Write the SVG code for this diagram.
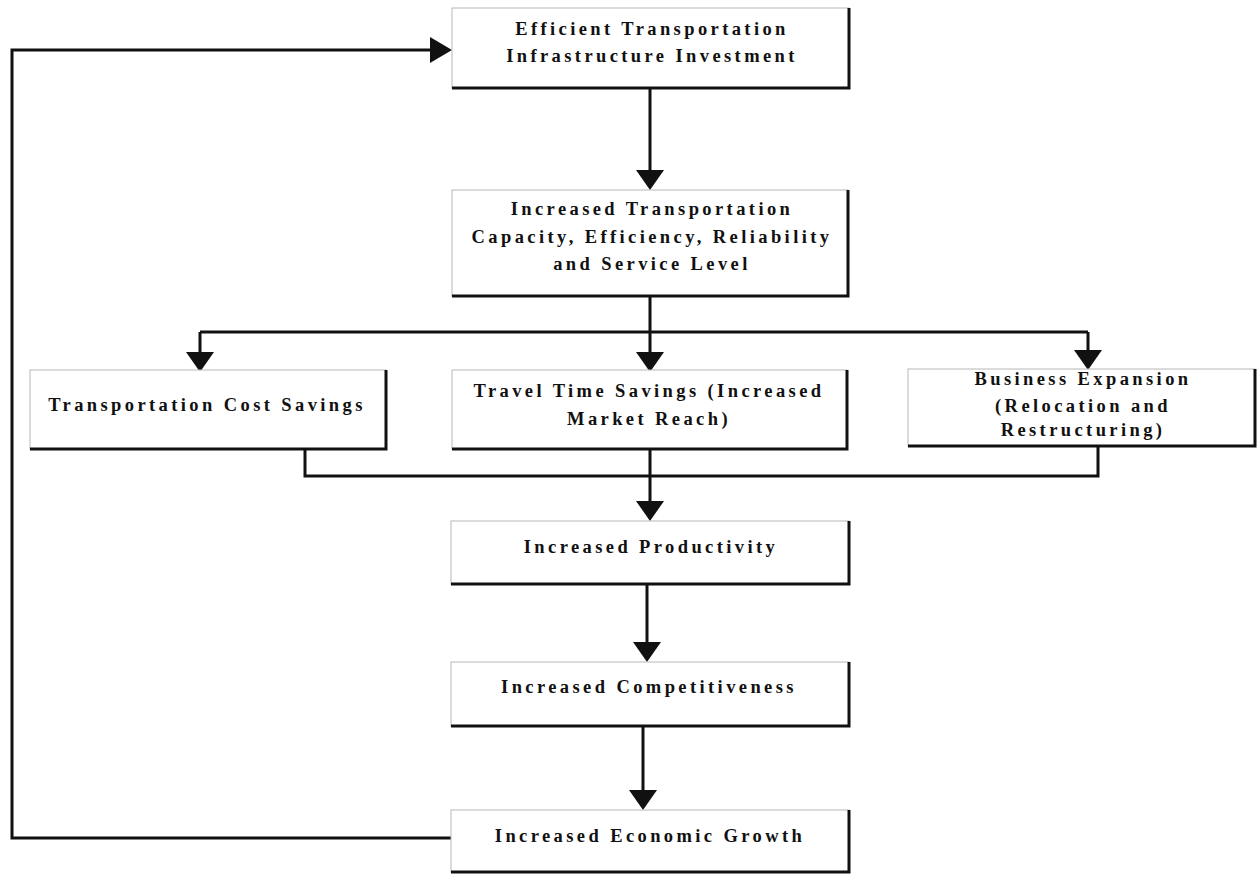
<svg xmlns="http://www.w3.org/2000/svg" width="1257" height="874" viewBox="0 0 1257 874">
<style>
.bg{fill:#fff;stroke:#b8b8b8;stroke-width:1}
.sh{fill:none;stroke:#111;stroke-width:3}
.t{font-family:"Liberation Serif","Times New Roman",serif;font-weight:bold;font-size:18.5px;letter-spacing:3.4px;fill:#111;text-anchor:middle}
.c{fill:none;stroke:#111;stroke-width:3}
.ah{fill:#111}
</style>
<rect width="1257" height="874" fill="#fff"/>
<g id="connectors">
<path class="c" d="M650 88 V172"/>
<polygon class="ah" points="636,170 664,170 650,190"/>
<path class="c" d="M650 296 V332 M200 332 H1088 M200 332 V354 M650 332 V354 M1088 332 V353"/>
<polygon class="ah" points="186,352 214,352 200,372"/>
<polygon class="ah" points="636,352 664,352 650,372"/>
<polygon class="ah" points="1074,350 1102,350 1088,370"/>
<path class="c" d="M305 449 V476 H1098 V446 M650 437 V503"/>
<polygon class="ah" points="636,501 664,501 650,521"/>
<path class="c" d="M647 584 V644"/>
<polygon class="ah" points="633,642 661,642 647,662"/>
<path class="c" d="M643 726 V792"/>
<polygon class="ah" points="629,790 657,790 643,810"/>
<path class="c" d="M451 838 H12 V50 H432"/>
<polygon class="ah" points="430,37 430,63 452,50"/>
</g>
<g id="n1">
<rect class="bg" x="452" y="8" width="397" height="80"/>
<path class="sh" d="M849 8 V88 H452"/>
<text class="t" x="652" y="35">Efficient Transportation</text>
<text class="t" x="652" y="62">Infrastructure Investment</text>
</g>
<g id="n2">
<rect class="bg" x="452" y="190" width="396" height="106"/>
<path class="sh" d="M848 190 V296 H452"/>
<text class="t" x="652" y="215">Increased Transportation</text>
<text class="t" x="652" y="243">Capacity, Efficiency, Reliability</text>
<text class="t" x="652" y="270">and Service Level</text>
</g>
<g id="nA">
<rect class="bg" x="30" y="370" width="356" height="79"/>
<path class="sh" d="M386 370 V449 H30"/>
<text class="t" x="207" y="411">Transportation Cost Savings</text>
</g>
<g id="nB">
<rect class="bg" x="452" y="370" width="395" height="79"/>
<path class="sh" d="M847 370 V449 H452"/>
<text class="t" x="649" y="397">Travel Time Savings (Increased</text>
<text class="t" x="649" y="425">Market Reach)</text>
</g>
<g id="nC">
<rect class="bg" x="908" y="369" width="347" height="77"/>
<path class="sh" d="M1255 369 V446 H908"/>
<text class="t" x="1083" y="385">Business Expansion</text>
<text class="t" x="1083" y="412">(Relocation and</text>
<text class="t" x="1083" y="436">Restructuring)</text>
</g>
<g id="nD">
<rect class="bg" x="451" y="521" width="398" height="63"/>
<path class="sh" d="M849 521 V584 H451"/>
<text class="t" x="651" y="553">Increased Productivity</text>
</g>
<g id="nE">
<rect class="bg" x="451" y="662" width="398" height="64"/>
<path class="sh" d="M849 662 V726 H451"/>
<text class="t" x="649" y="693">Increased Competitiveness</text>
</g>
<g id="nF">
<rect class="bg" x="451" y="810" width="398" height="62"/>
<path class="sh" d="M849 810 V872 H451"/>
<text class="t" x="650" y="842">Increased Economic Growth</text>
</g>
</svg>
